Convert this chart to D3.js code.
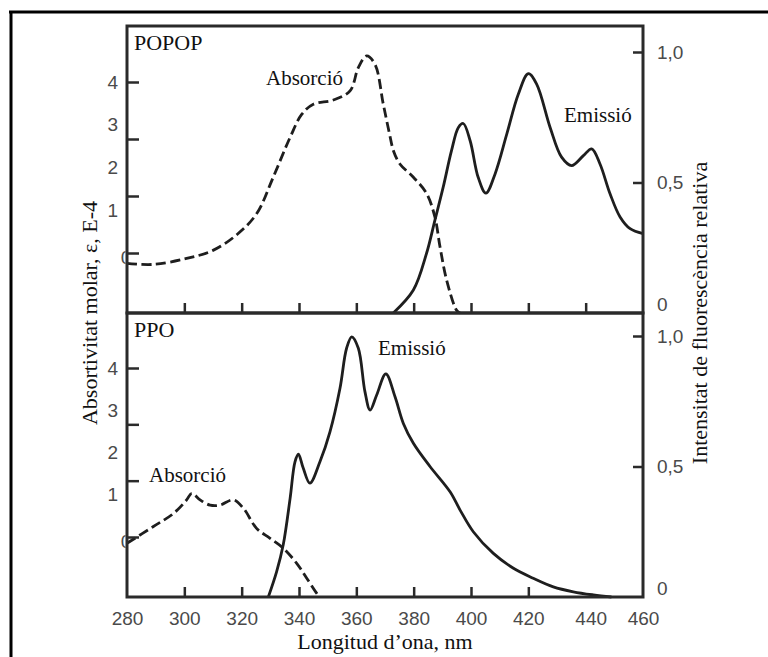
<!DOCTYPE html>
<html>
<head>
<meta charset="utf-8">
<script src="https://cdn.jsdelivr.net/npm/d3@7/dist/d3.min.js"></script>
<style>
  html, body { margin: 0; padding: 0; background: #fff; }
  svg { display: block; }
  .tick text { font-family: "Liberation Sans", Arial, sans-serif; font-size: 19px; fill: #4a4a4a; }
  .serif { font-family: "Liberation Serif", "Times New Roman", serif; fill: #111; }
</style>
</head>
<body>
<svg id="chart" width="768" height="657"></svg>
<script>
// Wavelength axis (nm)
const xTickLabels = [280, 300, 320, 340, 360, 380, 400, 420, 440, 460];
const xTickMarksTop = [300, 320, 340, 360, 380, 400, 420, 440];
const xTickMarksBottom = [300, 320, 340, 360, 380, 400, 420];

// Molar absorptivity axis (ε, E-4): printed labels and tick marks
const epsLabels = [0, 1, 2, 3, 4];
const epsTickMarks = [0, 4 / 3, 8 / 3, 4];

// Relative fluorescence axis
const relTicks = [0, 0.5, 1.0];
const relTickLabels = ["0", "0,5", "1,0"];

// POPOP absorption (normalised to panel scale)
const popopAbsNm = [280, 289, 300.8, 310, 318.3, 325.2, 331, 336.9, 341, 345, 352, 357.8, 360.7, 363.6, 366.5, 369.4, 371.5, 373, 375.2, 379.9, 384.5, 387.4, 389.2, 391.5, 395, 396.2];
const popopAbsVal = [0.19, 0.186, 0.209, 0.24, 0.30, 0.38, 0.52, 0.673, 0.762, 0.80, 0.816, 0.851, 0.94, 0.985, 0.953, 0.80, 0.69, 0.62, 0.571, 0.52, 0.458, 0.368, 0.253, 0.126, 0.01, 0];

// POPOP emission
const popopEmNm = [372.9, 379.9, 384.5, 387.4, 390.3, 393.2, 395.6, 397.3, 399.7, 402.5, 405.2, 408.4, 412.5, 416.5, 420, 422.9, 427.6, 431.6, 435.1, 439.2, 442.1, 445, 448.5, 452, 455.5, 460];
const popopEmVal = [0, 0.088, 0.229, 0.355, 0.482, 0.622, 0.711, 0.726, 0.66, 0.52, 0.459, 0.533, 0.686, 0.838, 0.917, 0.877, 0.711, 0.597, 0.565, 0.603, 0.629, 0.571, 0.457, 0.368, 0.323, 0.304];

// PPO absorption
const ppoAbsNm = [280, 289.2, 296.2, 300.8, 302.6, 305.5, 309, 312.4, 317.1, 320.6, 325.2, 329.9, 334.5, 339.2, 342.7, 346.2, 347.3];
const ppoAbsVal = [0.206, 0.27, 0.32, 0.372, 0.397, 0.372, 0.352, 0.352, 0.372, 0.34, 0.263, 0.225, 0.187, 0.129, 0.072, 0.014, 0];

// PPO emission
const ppoEmNm = [329.3, 332.2, 334.5, 336.9, 338.6, 339.8, 341.5, 343.8, 347.3, 350.8, 354.3, 356.6, 358.4, 360.7, 363, 364.8, 367.1, 370.3, 373.5, 376.4, 379.9, 385.7, 392.7, 396.2, 400.8, 407.8, 414.8, 421.7, 428.7, 435.7, 442.7, 449];
const ppoEmVal = [0, 0.097, 0.2, 0.378, 0.518, 0.547, 0.493, 0.436, 0.518, 0.633, 0.80, 0.953, 0.997, 0.953, 0.787, 0.716, 0.774, 0.855, 0.767, 0.665, 0.589, 0.5, 0.403, 0.333, 0.25, 0.167, 0.11, 0.072, 0.039, 0.02, 0.008, 0];

const svg = d3.select("#chart");
const left = 127, right = 643;

const x = d3.scaleLinear().domain([280, 460]).range([left, right]);

const panels = [
  { name: "POPOP", top: 26, bottom: 313,
    rel: d3.scaleLinear().domain([0, 1]).range([313, 52]),
    eps: d3.scaleLinear().domain([0, 4]).range([253, 82]),
    xMarks: xTickMarksTop,
    abs: { nm: popopAbsNm, v: popopAbsVal }, em: { nm: popopEmNm, v: popopEmVal },
    absLabel: { x: 266, y: 85 }, emLabel: { x: 564, y: 122 } },
  { name: "PPO", top: 313, bottom: 597,
    rel: d3.scaleLinear().domain([0, 1]).range([597, 336]),
    eps: d3.scaleLinear().domain([0, 4]).range([537, 368]),
    xMarks: xTickMarksBottom,
    abs: { nm: ppoAbsNm, v: ppoAbsVal }, em: { nm: ppoEmNm, v: ppoEmVal },
    absLabel: { x: 149, y: 482 }, emLabel: { x: 378, y: 355 } }
];

// Outer page frame (top and left rules)
svg.append("line").attr("x1", 9).attr("x2", 768).attr("y1", 12).attr("y2", 12)
  .attr("stroke", "#000").attr("stroke-width", 3);
svg.append("line").attr("x1", 11).attr("x2", 11).attr("y1", 11).attr("y2", 657)
  .attr("stroke", "#000").attr("stroke-width", 3);

const defs = svg.append("defs");

const lineGen = (p) => d3.line()
  .x(d => x(d.nm))
  .y(d => p.rel(d.v))
  .curve(d3.curveCatmullRom.alpha(0.5));

panels.forEach(p => {
  const g = svg.append("g");

  // Curves: dashed absorption, solid emission
  const absPts = p.abs.nm.map((n, i) => ({ nm: n, v: p.abs.v[i] }));
  const emPts = p.em.nm.map((n, i) => ({ nm: n, v: p.em.v[i] }));
  g.append("path").datum(absPts).attr("d", lineGen(p))
    .attr("fill", "none").attr("stroke", "#1e1e1e").attr("stroke-width", 2.8)
    .attr("stroke-dasharray", "10,4.5");
  g.append("path").datum(emPts).attr("d", lineGen(p))
    .attr("fill", "none").attr("stroke", "#1e1e1e").attr("stroke-width", 2.8);

  // Inward tick marks
  const markStyle = sel => {
    sel.select(".domain").remove();
    sel.selectAll(".tick line").attr("stroke", "#2a2a2a").attr("stroke-width", 2.5);
  };
  g.append("g").attr("transform", `translate(${left},0)`)
    .call(d3.axisLeft(p.eps).tickValues(epsTickMarks).tickSize(-12).tickFormat(""))
    .call(markStyle);
  g.append("g").attr("transform", `translate(${right},0)`)
    .call(d3.axisRight(p.rel).tickValues(relTicks.slice(1)).tickSize(-10).tickFormat(""))
    .call(markStyle);
  g.append("g").attr("transform", `translate(0,${p.bottom})`)
    .call(d3.axisBottom(x).tickValues(p.xMarks).tickSize(-10).tickFormat(""))
    .call(markStyle);

  // Left labels; the "0" sits half behind the axis
  const ll = g.append("g").attr("transform", `translate(${left},0)`)
    .call(d3.axisLeft(p.eps).tickValues(epsLabels).tickSize(0).tickPadding(9).tickFormat(d3.format("d")));
  ll.select(".domain").remove();
  const cp = "zeroClip" + p.name;
  defs.append("clipPath").attr("id", cp)
    .append("rect").attr("x", -20).attr("y", -20).attr("width", 18.5).attr("height", 40);
  ll.selectAll(".tick").filter(d => d === 0).select("text")
    .attr("x", -1).attr("text-anchor", "middle").attr("dy", "0.55em")
    .attr("clip-path", `url(#${cp})`);

  // Right labels
  const rl = g.append("g").attr("transform", `translate(${right},0)`)
    .call(d3.axisRight(p.rel).tickValues(relTicks).tickSize(0).tickPadding(14)
      .tickFormat((d, i) => relTickLabels[i]));
  rl.select(".domain").remove();
  rl.selectAll(".tick").filter(d => d === 0).select("text").attr("dy", "-0.15em");

  // Panel name and curve labels
  g.append("text").attr("class", "serif").attr("x", 134).attr("y", p.top + 24)
    .attr("font-size", 22).text(p.name);
  g.append("text").attr("class", "serif").attr("x", p.absLabel.x).attr("y", p.absLabel.y)
    .attr("font-size", 21).text("Absorció");
  g.append("text").attr("class", "serif").attr("x", p.emLabel.x).attr("y", p.emLabel.y)
    .attr("font-size", 21).text("Emissió");
});

// Bottom wavelength labels
const xl = svg.append("g").attr("transform", `translate(0,${597})`)
  .call(d3.axisBottom(x).tickValues(xTickLabels).tickSize(0).tickPadding(15).tickFormat(d3.format("d")));
xl.select(".domain").remove();
xl.selectAll(".tick").filter(d => d === 440).select("text").attr("x", 5);

// Panel frames
panels.forEach(p => {
  svg.append("rect").attr("x", left).attr("y", p.top)
    .attr("width", right - left).attr("height", p.bottom - p.top)
    .attr("fill", "none").attr("stroke", "#2a2a2a").attr("stroke-width", 3);
});

// Axis titles
svg.append("text").attr("class", "serif").attr("font-size", 22)
  .attr("text-anchor", "middle").attr("x", 385).attr("y", 649)
  .text("Longitud d\u2019ona, nm");
svg.append("text").attr("class", "serif").attr("font-size", 22)
  .attr("text-anchor", "middle")
  .attr("transform", "translate(97,313) rotate(-90)")
  .text("Absortivitat molar, \u03b5, E-4");
svg.append("text").attr("class", "serif").attr("font-size", 22)
  .attr("text-anchor", "middle")
  .attr("transform", "translate(707,313) rotate(-90)")
  .text("Intensitat de fluorescència relativa");
</script>
</body>
</html>
